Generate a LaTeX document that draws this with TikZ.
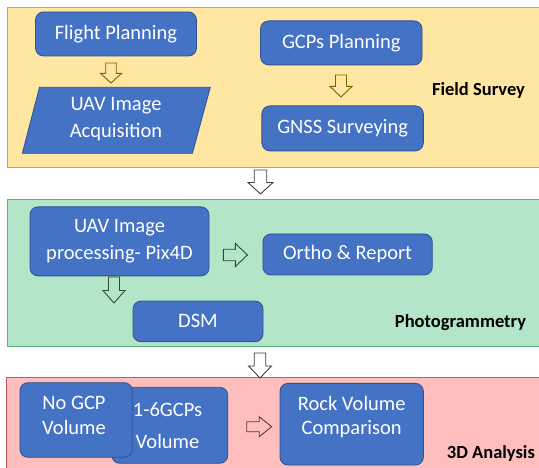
\documentclass[tikz,border=0pt]{standalone}
\usepackage{fontspec}
\setmainfont{Carlito}
\usetikzlibrary{calc}
\definecolor{panelY}{HTML}{FFE6A3}
\definecolor{panelYb}{HTML}{C9A25A}
\definecolor{panelG}{HTML}{B3E6C8}
\definecolor{panelGb}{HTML}{5DAE7C}
\definecolor{panelR}{HTML}{FFBEBE}
\definecolor{panelRb}{HTML}{C45A5A}
\definecolor{boxfill}{HTML}{4472C4}
\definecolor{boxline}{HTML}{2F528F}
\definecolor{arrY}{HTML}{7F6000}
\definecolor{arrG}{HTML}{2F4A35}
\definecolor{arrR}{HTML}{5A3A3A}
\definecolor{arrW}{HTML}{404040}
\tikzset{
  panel/.style={line width=0.8pt},
  boxfont/.style={font=\fontsize{20.5}{26.7}\selectfont},
  bluebox/.style={draw=boxline, fill=boxfill, line width=0.8pt, rounded corners=8pt,
    text=white, boxfont, align=center, inner sep=0pt},
  boxtext/.style={text=white, boxfont, align=center, inner sep=0pt},
  steplabel/.style={font=\bfseries\fontsize{18.5}{22}\selectfont, inner sep=0pt, text=black},
  blk/.style={line width=0.9pt, line join=miter},
}
\newcommand\BlkDown[6]{\draw[blk,draw=#5,fill=#6] ({#1-0.25*#3},#2) -- ({#1+0.25*#3},#2) -- ({#1+0.25*#3},{#2+0.52*#4}) -- ({#1+0.5*#3},{#2+0.52*#4}) -- (#1,{#2+#4}) -- ({#1-0.5*#3},{#2+0.52*#4}) -- ({#1-0.25*#3},{#2+0.52*#4}) -- cycle;}
\newcommand\BlkRight[6]{\draw[blk,draw=#5,fill=#6] (#1,{#2-0.25*#4}) -- ({#1+0.5*#3},{#2-0.25*#4}) -- ({#1+0.5*#3},{#2-0.5*#4}) -- ({#1+#3},#2) -- ({#1+0.5*#3},{#2+0.5*#4}) -- ({#1+0.5*#3},{#2+0.25*#4}) -- (#1,{#2+0.25*#4}) -- cycle;}
\begin{document}
\begin{tikzpicture}[x=1pt,y=-1pt]
\clip (0,0) rectangle (539,468);
\fill[white] (0,0) rectangle (539,468);
% panels
\draw[panel, fill=panelY, draw=panelYb] (7,7.5) rectangle (560,167);
\draw[panel, fill=panelG, draw=panelGb] (7.5,199.5) rectangle (560,346);
\draw[panel, fill=panelR, draw=panelRb] (6,377.5) rectangle (560,490);
% Field survey
\node[bluebox, minimum width=161, minimum height=44] (fp) at (116,34) {Flight Planning};
\draw[draw=boxline, fill=boxfill, line width=0.8pt] (39.5,87.3) -- (210.3,87.3) -- (192.4,153.3) -- (22.3,153.3) -- cycle;
\node[boxtext] (uav) at (116,119) {UAV Image\\Acquisition};
\node[bluebox, minimum width=161.5, minimum height=44] (gcp) at (341.3,42.9) {GCPs Planning};
\node[bluebox, minimum width=161.5, minimum height=45] (gnss) at (342.6,128.4) {GNSS Surveying};
\node[steplabel] (fs) at (478.5,90) {Field Survey};
\BlkDown{111}{63}{21}{20}{arrY}{panelY}
\BlkDown{341}{75}{22}{22}{arrY}{panelY}
% between
\BlkDown{260.5}{170}{25}{24}{arrW}{white}
% Photogrammetry
\node[bluebox, minimum width=179, minimum height=69] (proc) at (119.5,241.4) {UAV Image\\processing- Pix4D};
\node[bluebox, minimum width=169.4, minimum height=41] (ortho) at (347.6,254.5) {Ortho \& Report};
\node[bluebox, minimum width=130, minimum height=40.7] (dsm) at (198,321.4) {DSM};
\node[steplabel] (pg) at (460.5,323) {Photogrammetry};
\BlkRight{223.4}{255}{24}{23}{arrG}{panelG}
\BlkDown{114}{277}{22}{26}{arrG}{panelG}
% between
\BlkDown{260}{353}{23}{25}{arrW}{white}
% 3D analysis
\node[bluebox, minimum width=116, minimum height=76] (six) at (169.8,425.3) {};
\node[boxtext, font=\fontsize{20.5}{32}\selectfont] (sixt) at (167.5,426) {1-6GCPs\\Volume};
\node[bluebox, minimum width=112.4, minimum height=74.6] (nogcp) at (76.1,420) {};
\node[boxtext, font=\fontsize{20.5}{25}\selectfont] (nogcpt) at (74,415.5) {No GCP\\Volume};
\node[bluebox, minimum width=143.4, minimum height=81.7] (rock) at (351.7,424.2) {};
\node[boxtext, font=\fontsize{20.5}{24}\selectfont] (rockt) at (351.7,417.4) {Rock Volume\\Comparison};
\BlkRight{246.7}{426.7}{25}{20}{arrR}{panelR}
\node[steplabel, anchor=west] (ta) at (446.7,453) {3D Analysis};
\end{tikzpicture}
\end{document}
